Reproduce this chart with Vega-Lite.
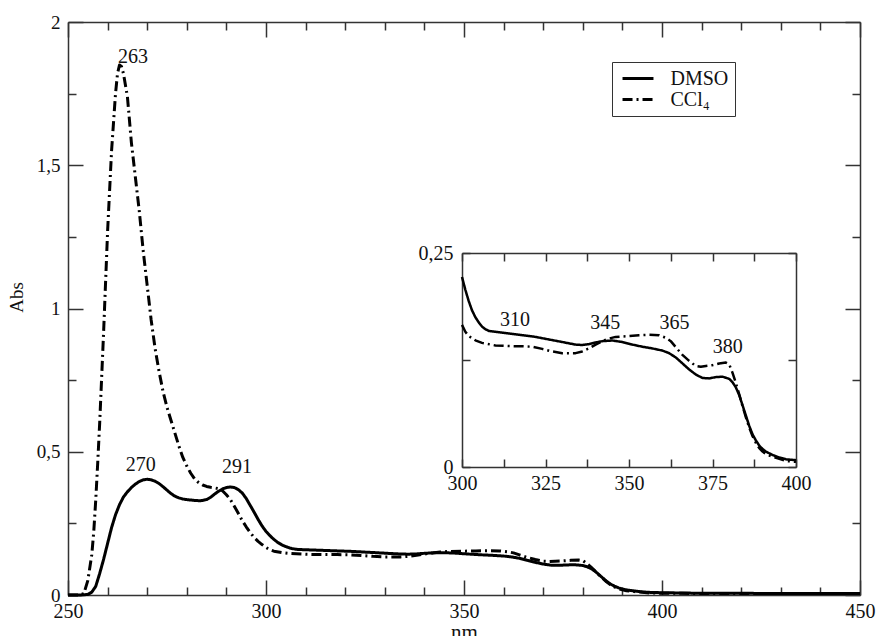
{
  "$schema": "https://vega.github.io/schema/vega-lite/v6.json",
  "width": 792,
  "height": 573,
  "autosize": {"type": "none"},
  "padding": {"left": 68, "top": 22, "right": 18, "bottom": 41},
  "background": "white",
  "config": {
    "view": {"stroke": null},
    "font": "Liberation Serif, Times New Roman, serif",
    "text": {"font": "Liberation Serif, Times New Roman, serif"},
    "axis": {
      "domainColor": "#333",
      "domainWidth": 1.5,
      "tickColor": "#333",
      "tickWidth": 1.5,
      "labelColor": "#111",
      "labelFont": "Liberation Serif, Times New Roman, serif",
      "labelFontSize": 20,
      "titleFont": "Liberation Serif, Times New Roman, serif",
      "titleFontWeight": "normal",
      "titleColor": "#111",
      "grid": false,
      "labelFlush": false,
      "labelOverlap": false
    },
    "legend": {
      "labelFont": "Liberation Serif, Times New Roman, serif"
    }
  },
  "datasets": {
    "spec": [
      {"nm": 250, "abs": 0, "s": "DMSO"}, {"nm": 253, "abs": 0, "s": "DMSO"}, {"nm": 255, "abs": 0.002, "s": "DMSO"},
      {"nm": 256, "abs": 0.01, "s": "DMSO"}, {"nm": 257, "abs": 0.03, "s": "DMSO"}, {"nm": 258, "abs": 0.075, "s": "DMSO"},
      {"nm": 259, "abs": 0.125, "s": "DMSO"}, {"nm": 260, "abs": 0.18, "s": "DMSO"}, {"nm": 261, "abs": 0.235, "s": "DMSO"},
      {"nm": 262, "abs": 0.28, "s": "DMSO"}, {"nm": 263, "abs": 0.315, "s": "DMSO"}, {"nm": 264, "abs": 0.342, "s": "DMSO"},
      {"nm": 265, "abs": 0.36, "s": "DMSO"}, {"nm": 266, "abs": 0.375, "s": "DMSO"}, {"nm": 267, "abs": 0.387, "s": "DMSO"},
      {"nm": 268, "abs": 0.396, "s": "DMSO"}, {"nm": 269, "abs": 0.402, "s": "DMSO"}, {"nm": 270, "abs": 0.404, "s": "DMSO"},
      {"nm": 271, "abs": 0.402, "s": "DMSO"}, {"nm": 272, "abs": 0.397, "s": "DMSO"}, {"nm": 273, "abs": 0.389, "s": "DMSO"},
      {"nm": 274, "abs": 0.378, "s": "DMSO"}, {"nm": 275, "abs": 0.366, "s": "DMSO"}, {"nm": 276, "abs": 0.354, "s": "DMSO"},
      {"nm": 277, "abs": 0.345, "s": "DMSO"}, {"nm": 278, "abs": 0.339, "s": "DMSO"}, {"nm": 279, "abs": 0.335, "s": "DMSO"},
      {"nm": 280, "abs": 0.333, "s": "DMSO"}, {"nm": 282, "abs": 0.33, "s": "DMSO"}, {"nm": 283.5, "abs": 0.329, "s": "DMSO"},
      {"nm": 285, "abs": 0.333, "s": "DMSO"}, {"nm": 286, "abs": 0.341, "s": "DMSO"}, {"nm": 287, "abs": 0.352, "s": "DMSO"},
      {"nm": 288, "abs": 0.362, "s": "DMSO"}, {"nm": 289, "abs": 0.37, "s": "DMSO"}, {"nm": 290, "abs": 0.375, "s": "DMSO"},
      {"nm": 291, "abs": 0.377, "s": "DMSO"}, {"nm": 292, "abs": 0.375, "s": "DMSO"}, {"nm": 293, "abs": 0.368, "s": "DMSO"},
      {"nm": 294, "abs": 0.356, "s": "DMSO"}, {"nm": 295, "abs": 0.337, "s": "DMSO"}, {"nm": 296, "abs": 0.313, "s": "DMSO"},
      {"nm": 297, "abs": 0.289, "s": "DMSO"}, {"nm": 298, "abs": 0.264, "s": "DMSO"}, {"nm": 299, "abs": 0.241, "s": "DMSO"},
      {"nm": 300, "abs": 0.222, "s": "DMSO"}, {"nm": 301, "abs": 0.207, "s": "DMSO"}, {"nm": 302, "abs": 0.194, "s": "DMSO"},
      {"nm": 303, "abs": 0.183, "s": "DMSO"}, {"nm": 304, "abs": 0.175, "s": "DMSO"}, {"nm": 305, "abs": 0.169, "s": "DMSO"},
      {"nm": 306, "abs": 0.164, "s": "DMSO"}, {"nm": 307, "abs": 0.161, "s": "DMSO"}, {"nm": 308, "abs": 0.159, "s": "DMSO"},
      {"nm": 310, "abs": 0.158, "s": "DMSO"}, {"nm": 314, "abs": 0.156, "s": "DMSO"}, {"nm": 318, "abs": 0.154, "s": "DMSO"},
      {"nm": 322, "abs": 0.152, "s": "DMSO"}, {"nm": 326, "abs": 0.149, "s": "DMSO"}, {"nm": 330, "abs": 0.146, "s": "DMSO"},
      {"nm": 334, "abs": 0.143, "s": "DMSO"}, {"nm": 336, "abs": 0.1425, "s": "DMSO"}, {"nm": 338, "abs": 0.1435, "s": "DMSO"},
      {"nm": 340, "abs": 0.1455, "s": "DMSO"}, {"nm": 342, "abs": 0.147, "s": "DMSO"}, {"nm": 345, "abs": 0.1478, "s": "DMSO"},
      {"nm": 348, "abs": 0.146, "s": "DMSO"}, {"nm": 351, "abs": 0.143, "s": "DMSO"}, {"nm": 354, "abs": 0.1405, "s": "DMSO"},
      {"nm": 357, "abs": 0.1385, "s": "DMSO"}, {"nm": 360, "abs": 0.136, "s": "DMSO"}, {"nm": 362, "abs": 0.133, "s": "DMSO"},
      {"nm": 364, "abs": 0.128, "s": "DMSO"}, {"nm": 366, "abs": 0.121, "s": "DMSO"}, {"nm": 368, "abs": 0.114, "s": "DMSO"},
      {"nm": 370, "abs": 0.108, "s": "DMSO"}, {"nm": 372, "abs": 0.104, "s": "DMSO"}, {"nm": 374, "abs": 0.1035, "s": "DMSO"},
      {"nm": 376, "abs": 0.105, "s": "DMSO"}, {"nm": 378, "abs": 0.1055, "s": "DMSO"}, {"nm": 380, "abs": 0.103, "s": "DMSO"},
      {"nm": 381, "abs": 0.099, "s": "DMSO"}, {"nm": 382, "abs": 0.093, "s": "DMSO"}, {"nm": 383, "abs": 0.084, "s": "DMSO"},
      {"nm": 384, "abs": 0.072, "s": "DMSO"}, {"nm": 385, "abs": 0.06, "s": "DMSO"}, {"nm": 386, "abs": 0.048, "s": "DMSO"},
      {"nm": 387, "abs": 0.038, "s": "DMSO"}, {"nm": 388, "abs": 0.031, "s": "DMSO"}, {"nm": 389, "abs": 0.025, "s": "DMSO"},
      {"nm": 390, "abs": 0.021, "s": "DMSO"}, {"nm": 391, "abs": 0.018, "s": "DMSO"}, {"nm": 393, "abs": 0.014, "s": "DMSO"},
      {"nm": 395, "abs": 0.011, "s": "DMSO"}, {"nm": 397, "abs": 0.009, "s": "DMSO"}, {"nm": 400, "abs": 0.008, "s": "DMSO"},
      {"nm": 405, "abs": 0.007, "s": "DMSO"}, {"nm": 410, "abs": 0.006, "s": "DMSO"}, {"nm": 420, "abs": 0.006, "s": "DMSO"},
      {"nm": 430, "abs": 0.005, "s": "DMSO"}, {"nm": 440, "abs": 0.005, "s": "DMSO"}, {"nm": 450, "abs": 0.005, "s": "DMSO"},

      {"nm": 250, "abs": 0, "s": "CCl₄"}, {"nm": 253, "abs": 0, "s": "CCl₄"}, {"nm": 254, "abs": 0.005, "s": "CCl₄"},
      {"nm": 255, "abs": 0.05, "s": "CCl₄"}, {"nm": 256, "abs": 0.14, "s": "CCl₄"}, {"nm": 256.5, "abs": 0.22, "s": "CCl₄"},
      {"nm": 257, "abs": 0.33, "s": "CCl₄"}, {"nm": 257.5, "abs": 0.46, "s": "CCl₄"}, {"nm": 258, "abs": 0.6, "s": "CCl₄"},
      {"nm": 259, "abs": 0.92, "s": "CCl₄"}, {"nm": 260, "abs": 1.27, "s": "CCl₄"}, {"nm": 261, "abs": 1.55, "s": "CCl₄"},
      {"nm": 262, "abs": 1.75, "s": "CCl₄"}, {"nm": 262.5, "abs": 1.82, "s": "CCl₄"}, {"nm": 263, "abs": 1.85, "s": "CCl₄"},
      {"nm": 263.5, "abs": 1.845, "s": "CCl₄"}, {"nm": 264, "abs": 1.82, "s": "CCl₄"}, {"nm": 265, "abs": 1.74, "s": "CCl₄"},
      {"nm": 266, "abs": 1.58, "s": "CCl₄"}, {"nm": 267, "abs": 1.46, "s": "CCl₄"}, {"nm": 268, "abs": 1.34, "s": "CCl₄"},
      {"nm": 269, "abs": 1.2, "s": "CCl₄"}, {"nm": 270, "abs": 1.08, "s": "CCl₄"}, {"nm": 271, "abs": 0.96, "s": "CCl₄"},
      {"nm": 272, "abs": 0.86, "s": "CCl₄"}, {"nm": 273, "abs": 0.78, "s": "CCl₄"}, {"nm": 274, "abs": 0.71, "s": "CCl₄"},
      {"nm": 275, "abs": 0.655, "s": "CCl₄"}, {"nm": 276, "abs": 0.61, "s": "CCl₄"}, {"nm": 277, "abs": 0.565, "s": "CCl₄"},
      {"nm": 278, "abs": 0.52, "s": "CCl₄"}, {"nm": 279, "abs": 0.48, "s": "CCl₄"}, {"nm": 280, "abs": 0.45, "s": "CCl₄"},
      {"nm": 281, "abs": 0.425, "s": "CCl₄"}, {"nm": 282, "abs": 0.405, "s": "CCl₄"}, {"nm": 283, "abs": 0.392, "s": "CCl₄"},
      {"nm": 284, "abs": 0.384, "s": "CCl₄"}, {"nm": 285, "abs": 0.379, "s": "CCl₄"}, {"nm": 286, "abs": 0.376, "s": "CCl₄"},
      {"nm": 287, "abs": 0.374, "s": "CCl₄"}, {"nm": 288, "abs": 0.371, "s": "CCl₄"}, {"nm": 289, "abs": 0.364, "s": "CCl₄"},
      {"nm": 290, "abs": 0.35, "s": "CCl₄"}, {"nm": 291, "abs": 0.333, "s": "CCl₄"}, {"nm": 292, "abs": 0.31, "s": "CCl₄"},
      {"nm": 293, "abs": 0.285, "s": "CCl₄"}, {"nm": 294, "abs": 0.26, "s": "CCl₄"}, {"nm": 295, "abs": 0.238, "s": "CCl₄"},
      {"nm": 296, "abs": 0.218, "s": "CCl₄"}, {"nm": 297, "abs": 0.201, "s": "CCl₄"}, {"nm": 298, "abs": 0.187, "s": "CCl₄"},
      {"nm": 299, "abs": 0.176, "s": "CCl₄"}, {"nm": 300, "abs": 0.166, "s": "CCl₄"}, {"nm": 301, "abs": 0.158, "s": "CCl₄"},
      {"nm": 302, "abs": 0.153, "s": "CCl₄"}, {"nm": 304, "abs": 0.148, "s": "CCl₄"}, {"nm": 306, "abs": 0.145, "s": "CCl₄"},
      {"nm": 310, "abs": 0.142, "s": "CCl₄"}, {"nm": 314, "abs": 0.1413, "s": "CCl₄"}, {"nm": 318, "abs": 0.141, "s": "CCl₄"},
      {"nm": 321, "abs": 0.1405, "s": "CCl₄"}, {"nm": 324, "abs": 0.138, "s": "CCl₄"}, {"nm": 327, "abs": 0.135, "s": "CCl₄"},
      {"nm": 330, "abs": 0.133, "s": "CCl₄"}, {"nm": 334, "abs": 0.133, "s": "CCl₄"}, {"nm": 336, "abs": 0.135, "s": "CCl₄"},
      {"nm": 338, "abs": 0.1386, "s": "CCl₄"}, {"nm": 340, "abs": 0.143, "s": "CCl₄"}, {"nm": 342, "abs": 0.147, "s": "CCl₄"},
      {"nm": 344, "abs": 0.15, "s": "CCl₄"}, {"nm": 346, "abs": 0.152, "s": "CCl₄"}, {"nm": 350, "abs": 0.153, "s": "CCl₄"},
      {"nm": 353, "abs": 0.154, "s": "CCl₄"}, {"nm": 356, "abs": 0.1545, "s": "CCl₄"}, {"nm": 359, "abs": 0.154, "s": "CCl₄"},
      {"nm": 361, "abs": 0.151, "s": "CCl₄"}, {"nm": 362.5, "abs": 0.147, "s": "CCl₄"}, {"nm": 364, "abs": 0.14, "s": "CCl₄"},
      {"nm": 366, "abs": 0.131, "s": "CCl₄"}, {"nm": 368, "abs": 0.124, "s": "CCl₄"}, {"nm": 370, "abs": 0.118, "s": "CCl₄"},
      {"nm": 371.5, "abs": 0.117, "s": "CCl₄"}, {"nm": 373, "abs": 0.118, "s": "CCl₄"}, {"nm": 375, "abs": 0.119, "s": "CCl₄"},
      {"nm": 377, "abs": 0.121, "s": "CCl₄"}, {"nm": 379, "abs": 0.122, "s": "CCl₄"}, {"nm": 380, "abs": 0.12, "s": "CCl₄"},
      {"nm": 381, "abs": 0.11, "s": "CCl₄"}, {"nm": 382, "abs": 0.098, "s": "CCl₄"}, {"nm": 383, "abs": 0.085, "s": "CCl₄"},
      {"nm": 384, "abs": 0.071, "s": "CCl₄"}, {"nm": 385, "abs": 0.058, "s": "CCl₄"}, {"nm": 386, "abs": 0.046, "s": "CCl₄"},
      {"nm": 387, "abs": 0.036, "s": "CCl₄"}, {"nm": 388, "abs": 0.028, "s": "CCl₄"}, {"nm": 389, "abs": 0.022, "s": "CCl₄"},
      {"nm": 390, "abs": 0.018, "s": "CCl₄"}, {"nm": 391, "abs": 0.015, "s": "CCl₄"}, {"nm": 393, "abs": 0.012, "s": "CCl₄"},
      {"nm": 395, "abs": 0.0095, "s": "CCl₄"}, {"nm": 397, "abs": 0.007, "s": "CCl₄"}, {"nm": 400, "abs": 0.006, "s": "CCl₄"},
      {"nm": 405, "abs": 0.006, "s": "CCl₄"}, {"nm": 410, "abs": 0.005, "s": "CCl₄"}, {"nm": 420, "abs": 0.005, "s": "CCl₄"},
      {"nm": 430, "abs": 0.005, "s": "CCl₄"}, {"nm": 440, "abs": 0.005, "s": "CCl₄"}, {"nm": 450, "abs": 0.005, "s": "CCl₄"}
    ],
    "ann": [
      {"label": "263", "nm": 266.4, "abs": 1.857},
      {"label": "270", "nm": 268.4, "abs": 0.434},
      {"label": "291", "nm": 292.7, "abs": 0.426}
    ],
    "inann": [
      {"label": "310", "nm": 315.9, "abs": 0.1647},
      {"label": "345", "nm": 342.9, "abs": 0.1612},
      {"label": "365", "nm": 363.6, "abs": 0.1612},
      {"label": "380", "nm": 379.6, "abs": 0.1335}
    ]
  },
  "layer": [
    {
      "data": {"name": "spec"},
      "mark": {"type": "line", "strokeWidth": 3, "color": "black", "strokeCap": "butt", "strokeJoin": "round"},
      "encoding": {
        "x": {
          "field": "nm", "type": "quantitative",
          "scale": {"domain": [250, 450], "nice": false, "zero": false},
          "axis": {
            "orient": "bottom",
            "values": [250,260,270,280,290,300,310,320,330,340,350,360,370,380,390,400,410,420,430,440,450],
            "tickSize": {"condition": {"test": "datum.value % 50 === 0", "value": -15}, "value": -8},
            "labelExpr": "datum.value % 50 === 0 ? toString(datum.value) : ''",
            "labelPadding": 21,
            "title": "nm", "titleFontSize": 21, "titleY": 43, "titleBaseline": "alphabetic"
          }
        },
        "y": {
          "field": "abs", "type": "quantitative",
          "scale": {"domain": [0, 2], "nice": false, "zero": false},
          "axis": {
            "orient": "left",
            "values": [0,0.25,0.5,0.75,1,1.25,1.5,1.75,2],
            "tickSize": {"condition": {"test": "datum.value % 0.5 === 0", "value": -15}, "value": -8},
            "labelExpr": "datum.value % 0.5 === 0 ? replace(toString(datum.value), '.', ',') : ''",
            "labelPadding": 23,
            "labelFontSize": 19,
            "title": "Abs", "titleFontSize": 19, "titleX": -46, "titleY": 275, "titleBaseline": "alphabetic"
          }
        },
        "strokeDash": {
          "field": "s", "type": "nominal",
          "scale": {"domain": ["DMSO", "CCl₄"], "range": [[1, 0], [10, 4, 2, 4]]},
          "legend": {
            "orient": "none", "legendX": 544, "legendY": 40, "title": null,
            "strokeColor": "#333", "fillColor": "white", "padding": 6,
            "symbolType": "M-1.72,0H1.72", "symbolSize": 324, "symbolStrokeWidth": 3, "symbolStrokeColor": "black",
            "symbolOffset": 9.5,
            "labelFont": "Liberation Serif, Times New Roman, serif", "labelFontSize": 20, "labelColor": "#111", "labelOffset": 22,
            "labelExpr": "datum.label + '\u00a0\u00a0\u00a0'",
            "rowPadding": -3, "labelLimit": 200
          }
        }
      }
    },
    {
      "data": {"name": "ann"},
      "mark": {"type": "text", "fontSize": 20, "align": "center", "baseline": "alphabetic", "color": "#111"},
      "encoding": {
        "x": {
          "field": "nm", "type": "quantitative",
          "scale": {"domain": [250, 450], "nice": false, "zero": false},
          "axis": {
            "orient": "top",
            "values": [250,260,270,280,290,300,310,320,330,340,350,360,370,380,390,400,410,420,430,440,450],
            "tickSize": {"condition": {"test": "datum.value % 50 === 0", "value": -15}, "value": -8},
            "labels": false, "title": null
          }
        },
        "y": {
          "field": "abs", "type": "quantitative",
          "scale": {"domain": [0, 2], "nice": false, "zero": false},
          "axis": {
            "orient": "right",
            "values": [0,0.25,0.5,0.75,1,1.25,1.5,1.75,2],
            "tickSize": {"condition": {"test": "datum.value % 0.5 === 0", "value": -15}, "value": -8},
            "labels": false, "title": null
          }
        },
        "text": {"field": "label"}
      }
    },
    {
      "data": {"name": "spec"},
      "transform": [{"filter": "datum.nm >= 300 && datum.nm <= 400"}],
      "mark": {"type": "line", "strokeWidth": 2.5, "color": "black", "strokeCap": "butt", "strokeJoin": "round"},
      "encoding": {
        "x": {
          "field": "nm", "type": "quantitative",
          "scale": {"domain": [300, 400], "range": [394, 728], "nice": false, "zero": false},
          "axis": {
            "orient": "bottom", "offset": -128,
            "values": [300,312.5,325,337.5,350,362.5,375,387.5,400],
            "tickSize": -8,
            "labelExpr": "datum.value % 25 === 0 ? toString(datum.value) : ''",
            "labelPadding": 14,
            "title": null
          }
        },
        "y": {
          "field": "abs", "type": "quantitative",
          "scale": {"domain": [0, 0.25], "range": [445, 231], "nice": false, "zero": false},
          "axis": {
            "orient": "left", "offset": -394,
            "values": [0, 0.125, 0.25],
            "tickSize": -8,
            "labelExpr": "datum.value === 0 ? '0' : (datum.value === 0.25 ? '0,25' : '')",
            "labelPadding": 17,
            "title": null
          }
        },
        "strokeDash": {
          "field": "s", "type": "nominal",
          "scale": {"domain": ["DMSO", "CCl₄"], "range": [[1, 0], [10, 4, 2, 4]]}
        }
      }
    },
    {
      "data": {"name": "inann"},
      "mark": {"type": "text", "fontSize": 20, "align": "center", "baseline": "alphabetic", "color": "#111"},
      "encoding": {
        "x": {
          "field": "nm", "type": "quantitative",
          "scale": {"domain": [300, 400], "range": [394, 728], "nice": false, "zero": false},
          "axis": {
            "orient": "top", "offset": -231,
            "values": [300,312.5,325,337.5,350,362.5,375,387.5,400],
            "tickSize": -8, "labels": false, "title": null
          }
        },
        "y": {
          "field": "abs", "type": "quantitative",
          "scale": {"domain": [0, 0.25], "range": [445, 231], "nice": false, "zero": false},
          "axis": {
            "orient": "right", "offset": -64,
            "values": [0, 0.125, 0.25],
            "tickSize": -8, "labels": false, "title": null
          }
        },
        "text": {"field": "label"}
      }
    }
  ],
  "resolve": {"scale": {"x": "independent", "y": "independent"}}
}
